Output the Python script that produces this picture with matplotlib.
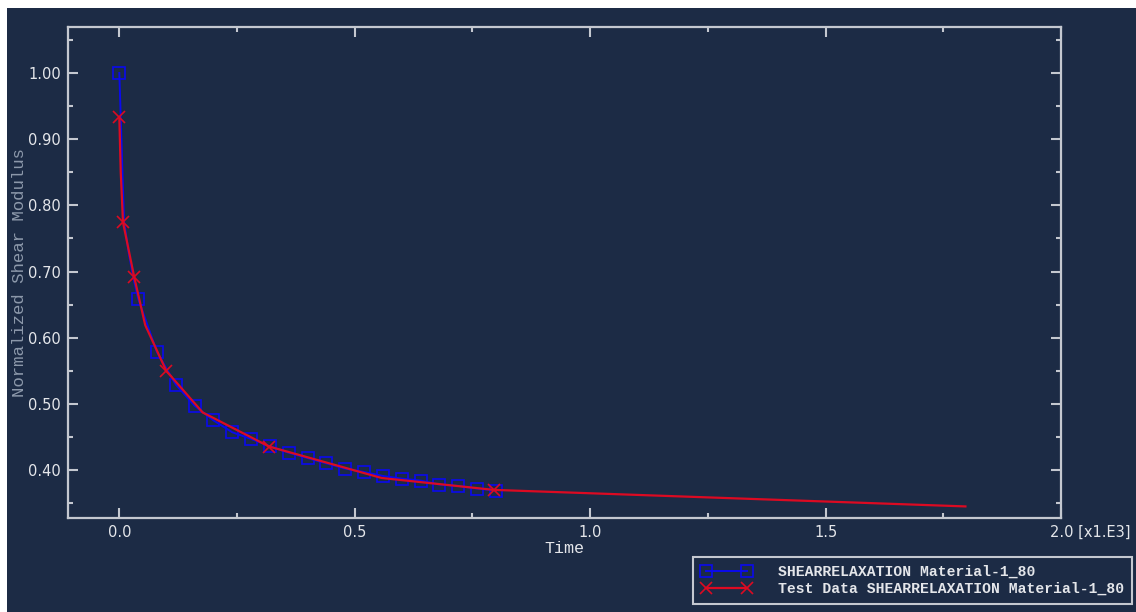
import matplotlib
matplotlib.use("Agg")
import matplotlib.pyplot as plt
from matplotlib.patches import Rectangle
from matplotlib.ticker import MultipleLocator, FixedLocator, FixedFormatter

# ---------------- data (time in x1.E3) ----------------
model_time = [0.0, 0.01, 0.02, 0.03, 0.04, 0.08, 0.12, 0.16, 0.20, 0.24, 0.28,
              0.32, 0.36, 0.40, 0.44, 0.48, 0.52, 0.56, 0.60, 0.64, 0.68,
              0.72, 0.76, 0.80]
model_modulus = [1.000, 0.776, 0.728, 0.690, 0.659, 0.578, 0.529, 0.497, 0.475,
                 0.457, 0.447, 0.436, 0.426, 0.418, 0.410, 0.402, 0.397, 0.391,
                 0.387, 0.384, 0.378, 0.376, 0.372, 0.369]
model_marker_idx = [0] + list(range(4, 24))

test_time = [0.0, 0.003, 0.0078, 0.0318, 0.055, 0.0996, 0.177, 0.318, 0.557,
             0.795, 1.797]
test_modulus = [0.933, 0.850, 0.7745, 0.691, 0.619, 0.550, 0.487, 0.4355,
                0.388, 0.370, 0.345]
test_marker_idx = [0, 2, 3, 5, 7, 9]

x_ticks = [0.0, 0.5, 1.0, 1.5, 2.0]
x_ticklabels = ["0.0", "0.5", "1.0", "1.5", ""]
x_last_label = "2.0 [x1.E3]"
y_ticks = [0.40, 0.50, 0.60, 0.70, 0.80, 0.90, 1.00]
y_ticklabels = ["0.40", "0.50", "0.60", "0.70", "0.80", "0.90", "1.00"]

label_model = "SHEARRELAXATION Material-1_80"
label_test = "Test Data SHEARRELAXATION Material-1_80"

# ---------------- style ----------------
W, H = 1136, 612
BG = "#1c2b45"
SPINE = "#c4c8d0"
TXT = "#e4e6ea"
YLAB = "#8d99ab"
BLUE = "#0a0aee"
RED = "#dc0a22"
TICKSIZE = 10.5

fig = plt.figure(figsize=(W / 100, H / 100), dpi=100, facecolor="white")
fig.patches.append(Rectangle((7 / W, 0), 1 - 7 / W, 1 - 8 / H,
                             transform=fig.transFigure, facecolor=BG,
                             edgecolor="none", zorder=-10))

ax = fig.add_axes([68 / W, 1 - 518 / H, (1061 - 68) / W, (518 - 27) / H])
ax.set_facecolor(BG)

ax.plot(model_time, model_modulus, color=BLUE, lw=1.4, marker="s",
        markersize=8, markerfacecolor="none", markeredgecolor=BLUE,
        markeredgewidth=1.2, markevery=model_marker_idx, label=label_model,
        zorder=3)
ax.plot(test_time, test_modulus, color=RED, lw=1.6, marker="x",
        markersize=8, markeredgecolor=RED, markeredgewidth=1.2,
        markevery=test_marker_idx, label=label_test, zorder=4)

ax.set_xlim(-0.109, 2.0)
ax.set_ylim(0.3275, 1.0695)

ax.xaxis.set_major_locator(FixedLocator(x_ticks))
ax.xaxis.set_major_formatter(FixedFormatter(x_ticklabels))
ax.xaxis.set_minor_locator(MultipleLocator(0.25))
ax.yaxis.set_major_locator(FixedLocator(y_ticks))
ax.yaxis.set_major_formatter(FixedFormatter(y_ticklabels))
ax.yaxis.set_minor_locator(MultipleLocator(0.05))

for s in ax.spines.values():
    s.set_color(SPINE)
    s.set_linewidth(1.6)

ax.tick_params(which="both", direction="in", top=True, right=True,
               color=SPINE, width=1.5, labelcolor=TXT, labelsize=TICKSIZE)
ax.tick_params(which="major", length=7.2, pad=5)
ax.tick_params(which="minor", length=3.8)
for lab in ax.get_xticklabels() + ax.get_yticklabels():
    lab.set_family("DejaVu Sans")

# last x tick label with the scale factor, starting just left of the tick
ax.annotate(x_last_label, xy=(x_ticks[-1], 0),
            xycoords=ax.get_xaxis_transform(), xytext=(-8.2, -5),
            textcoords="offset points", ha="left", va="top", color=TXT,
            fontsize=TICKSIZE, family="DejaVu Sans", annotation_clip=False)

ax.set_xlabel("Time", family="Liberation Mono", fontsize=12, color=TXT,
              labelpad=1)
ax.set_ylabel("Normalized Shear Modulus", family="Liberation Mono",
              fontsize=12.5, color=YLAB)
ax.yaxis.set_label_coords((27 - 68) / (1061 - 68), 0.5)

leg = fig.legend(loc="upper left", bbox_to_anchor=(693 / W, 1 - 557 / H),
                 bbox_transform=fig.transFigure, borderaxespad=0,
                 numpoints=2, handlelength=3.4, handletextpad=1.8,
                 labelspacing=0.2, borderpad=0.55, fancybox=False,
                 framealpha=1, facecolor=BG, edgecolor=SPINE,
                 prop={"family": "Liberation Mono", "size": 10.6,
                       "weight": "bold"})
leg.get_frame().set_linewidth(1.5)
for t in leg.get_texts():
    t.set_color(TXT)

fig.savefig("out.png", dpi=100, facecolor="white")
